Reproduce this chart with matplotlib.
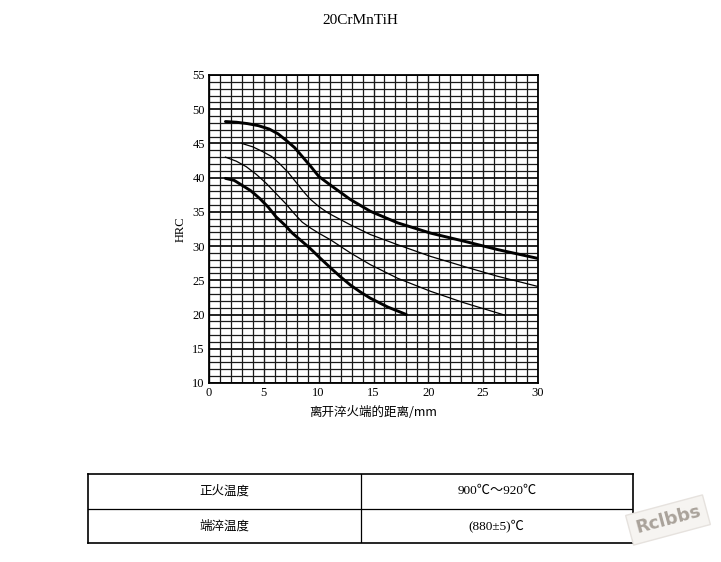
import matplotlib.pyplot as plt
from matplotlib.ticker import MultipleLocator

# Jominy band data (distance mm -> HRC)
x_max = [1.5, 2.5, 3.5, 4.5, 5.5, 6.3, 7, 7.8, 8.5, 9.3, 10, 11, 12.9, 14.7, 17.2, 20.2, 23.3, 26.3, 30]
hrc_max = [48.2, 48.1, 47.9, 47.6, 47.1, 46.4, 45.5, 44.4, 43.1, 41.6, 40.2, 39.0, 36.8, 35.1, 33.4, 31.9, 30.7, 29.5, 28.2]

x_upper = [3, 4, 4.9, 5.7, 6.4, 7.2, 7.9, 8.6, 9.2, 10, 10.9, 12.9, 14.7, 17.2, 20.2, 23.3, 26.3, 30]
hrc_upper = [45.0, 44.5, 43.8, 43.1, 42.1, 40.8, 39.4, 38.0, 36.9, 35.8, 34.8, 33.1, 31.7, 30.2, 28.5, 27.0, 25.6, 24.1]

x_lower = [1.5, 2.5, 3.4, 4.3, 5.2, 6.1, 7, 7.8, 8.5, 9.3, 10, 11.1, 12.9, 14.7, 17.2, 20.2, 23.3, 27]
hrc_lower = [43.0, 42.4, 41.6, 40.5, 39.2, 37.7, 36.2, 34.7, 33.5, 32.6, 31.9, 30.9, 29.0, 27.3, 25.3, 23.4, 21.7, 19.9]

x_min = [1.5, 2.3, 3, 3.8, 4.6, 5.4, 6.1, 6.9, 7.6, 8.4, 9.2, 10.1, 11.1, 12, 12.9, 13.8, 14.7, 16.3, 18]
hrc_min = [39.9, 39.6, 38.9, 38.1, 37.0, 35.7, 34.3, 33.1, 31.9, 30.8, 29.7, 28.3, 26.8, 25.5, 24.3, 23.3, 22.4, 21.1, 20.0]

table_rows = [['正火温度', '900℃～920℃'], ['端淬温度', '(880±5)℃']]

cjk = ['Noto Sans CJK SC', 'DejaVu Sans']
serif = ['Liberation Serif', 'DejaVu Serif']
serif_cjk = ['Liberation Serif', 'Noto Sans CJK SC', 'DejaVu Serif']

fig = plt.figure(figsize=(7.21, 5.62), dpi=100)
ax = fig.add_axes([209 / 721, 1 - 383 / 562, 329 / 721, 308 / 562])

ax.set_xlim(0, 30)
ax.set_ylim(10, 55)
ax.xaxis.set_major_locator(MultipleLocator(5))
ax.xaxis.set_minor_locator(MultipleLocator(1))
ax.yaxis.set_major_locator(MultipleLocator(5))
ax.yaxis.set_minor_locator(MultipleLocator(1))
ax.grid(which='minor', color='#1a1a1a', lw=0.9)
ax.grid(which='major', axis='x', color='#1a1a1a', lw=1.0)
ax.grid(which='major', axis='y', color='#111111', lw=1.3)
ax.set_axisbelow(True)
ax.tick_params(which='both', length=0, labelsize=9, pad=3)
for lab in ax.get_xticklabels() + ax.get_yticklabels():
    lab.set_family(serif)
for sp in ax.spines.values():
    sp.set_linewidth(1.3)

ax.plot(x_max, hrc_max, color='black', lw=2.1, solid_capstyle='round', solid_joinstyle='round')
ax.plot(x_upper, hrc_upper, color='black', lw=0.9)
ax.plot(x_lower, hrc_lower, color='black', lw=0.9)
ax.plot(x_min, hrc_min, color='black', lw=2.1, solid_capstyle='round', solid_joinstyle='round')

ax.set_xlabel('离开淬火端的距离/mm', family=cjk, fontsize=9, labelpad=5)
ax.set_ylabel('HRC', family=serif, fontsize=9, labelpad=4)

fig.text(360 / 721, 1 - 20 / 562, '20CrMnTiH', family=serif, fontsize=11,
         ha='center', va='center')

# table below the chart
tab = fig.add_axes([88 / 721, 1 - 543 / 562, 545 / 721, 69 / 562])
tab.set_xlim(0, 2)
tab.set_ylim(0, 2)
tab.set_xticks([])
tab.set_yticks([])
for sp in tab.spines.values():
    sp.set_linewidth(1.2)
tab.axvline(1, color='black', lw=0.9)
tab.axhline(1, color='black', lw=0.9)
for i, row in enumerate(table_rows):
    yc = 1.5 - i
    tab.text(0.5, yc, row[0], family=cjk, fontsize=9, ha='center', va='center')
    tab.text(1.5, yc, row[1], family=serif_cjk, fontsize=9.5, ha='center', va='center')

# watermark
fig.text(668 / 721, 1 - 520 / 562, 'Rclbbs', fontsize=13, fontweight='bold',
         color='#aaa39b', rotation=15, ha='center', va='center',
         bbox=dict(boxstyle='square,pad=0.35', fc='#f6f4f1', ec='#e6e2de'))

fig.savefig('out.png', dpi=100)
